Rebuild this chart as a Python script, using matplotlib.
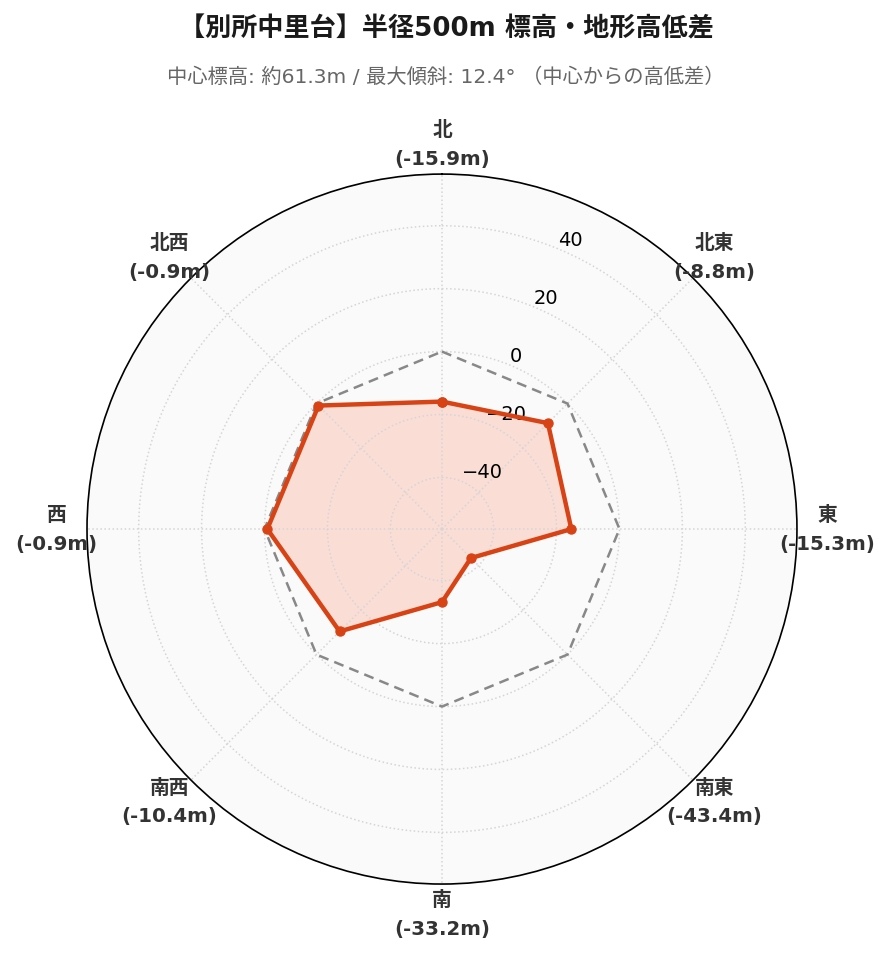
import matplotlib
matplotlib.use('Agg')
import matplotlib.pyplot as plt
import numpy as np

# data
directions = ['北', '北東', '東', '南東', '南', '南西', '西', '北西']
diffs = [-15.9, -8.8, -15.3, -43.4, -33.2, -10.4, -0.9, -0.9]
rticks = [-40, -20, 0, 20, 40]

title = '【別所中里台】半径500m 標高・地形高低差'
subtitle = '中心標高: 約61.3m / 最大傾斜: 12.4° （中心からの高低差）'

mixed = ['DejaVu Sans', 'Noto Sans CJK JP']
line_color = '#d84315'

fig = plt.figure(figsize=(8.92, 9.62), dpi=100)
ax = fig.add_axes([0.0975, 0.08, 0.796, 0.738], projection='polar')
ax.set_theta_zero_location('N')
ax.set_theta_direction(-1)
ax.set_facecolor('#fafafa')

angles = np.linspace(0, 2 * np.pi, len(directions), endpoint=False)
ang_c = np.append(angles, angles[0])
vals_c = np.append(diffs, diffs[0])

lim = max(abs(v) for v in diffs) * 1.3
ax.set_ylim(-lim, lim)

# zero reference
ax.plot(ang_c, np.zeros_like(ang_c), color='#888888', lw=1.8, ls=(0, (4, 2.5)), zorder=3)

ax.fill(ang_c, vals_c, color='#ff5722', alpha=0.17, zorder=1)
ax.plot(ang_c, vals_c, color=line_color, lw=3.2, marker='o', ms=6.5, zorder=4)

ax.set_xticks(angles)
ax.set_xticklabels([])
ax.set_yticks(rticks)
ax.set_yticklabels([str(t).replace('-', '\u2212') for t in rticks], fontsize=14, family=mixed)
ax.grid(True, color='#d5d5d5', ls=':', lw=1.1)
ax.spines['polar'].set_color('black')
ax.spines['polar'].set_linewidth(1.2)

for a, d, v in zip(angles, directions, diffs):
    ax.text(a, lim + 9.6, f'{d}\n({v}m)', ha='center', va='center', fontsize=14.2,
            fontweight='bold', color='#333333', family=mixed, linespacing=1.65, clip_on=False)

fig.text(0.5, 0.969, title, ha='center', va='center', fontsize=18.8, fontweight='bold',
         family=mixed, color='#1a1a1a')
fig.text(0.5, 0.920, subtitle, ha='center', va='center', fontsize=14.6, color='#666666', family=mixed)

fig.savefig('out.png', dpi=100, facecolor='white')
